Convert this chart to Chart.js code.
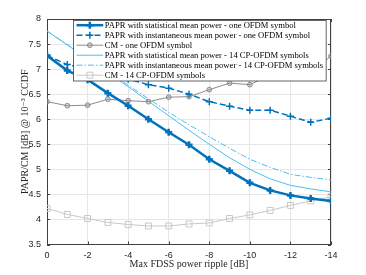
<!DOCTYPE html>
<html>
<head>
<meta charset="utf-8">
<script src="https://cdn.jsdelivr.net/npm/chart.js@4.4.1/dist/chart.umd.min.js"></script>
<style>
  html, body { margin: 0; padding: 0; background: #fff; }
</style>
</head>
<body>
<canvas id="c" width="366" height="275"></canvas>
<script>
// Max FDSS power ripple [dB], one point per dB
const ripple = [0, -1, -2, -3, -4, -5, -6, -7, -8, -9, -10, -11, -12, -13, -14];

const paprStatOne   = [7.27, 6.97, 6.79, 6.52, 6.27, 6.00, 5.74, 5.49, 5.20, 4.97, 4.73, 4.58, 4.48, 4.42, 4.37];
const paprInstOne   = [7.27, 7.09, 7.00, 6.91, 6.80, 6.69, 6.62, 6.50, 6.35, 6.26, 6.18, 6.18, 6.06, 5.94, 6.02];
const cmOne         = [6.35, 6.27, 6.28, 6.40, 6.37, 6.35, 6.44, 6.45, 6.59, 6.72, 6.69, 6.88, 7.00, 6.93, 7.26];
const paprStatCp14  = [7.76, 7.48, 7.21, 6.93, 6.65, 6.36, 6.07, 5.78, 5.50, 5.23, 5.00, 4.81, 4.68, 4.61, 4.55];
const paprInstCp14  = [7.76, 7.49, 7.22, 6.95, 6.68, 6.41, 6.14, 5.89, 5.65, 5.42, 5.20, 5.04, 4.90, 4.84, 4.79];
const cmCp14        = [4.22, 4.10, 4.02, 3.94, 3.90, 3.87, 3.87, 3.91, 3.93, 4.02, 4.09, 4.18, 4.28, 4.37, 4.45];

const seriesLabels = [
  "PAPR with statistical mean power - one OFDM symbol",
  "PAPR with instantaneous mean power - one OFDM symbol",
  "CM - one OFDM symbol",
  "PAPR with statistical mean power - 14 CP-OFDM symbols",
  "PAPR with instantaneous mean power - 14 CP-OFDM symbols",
  "CM - 14 CP-OFDM symbols",
];

const xTickValues = [0, -2, -4, -6, -8, -10, -12, -14];
const yTickValues = [3.5, 4, 4.5, 5, 5.5, 6, 6.5, 7, 7.5, 8];

const BLUE = "#0072BD", LIGHT = "#4DBEEE", GRAY = "#8C8C8C", PALE = "#C8C8C8";
const AXIS = "#404040";
const SERIF = '"Liberation Serif", "DejaVu Serif", serif';
const SANS = '"Liberation Sans", Arial, sans-serif';

const pts = ys => ripple.map((x, i) => ({ x, y: ys[i] }));

function line(label, ys, color, width, dash, marker, radius, fillMarker) {
  return {
    label, data: pts(ys), borderColor: color, borderWidth: width, borderDash: dash,
    pointStyle: marker || "circle", pointRadius: marker ? radius : 0,
    pointBorderColor: color, pointBackgroundColor: fillMarker || "rgba(0,0,0,0)",
    pointBorderWidth: marker === "cross" ? width : 1,
    fill: false, tension: 0,
  };
}

// MATLAB-style box: top/right edges plus inward tick marks
const frame = {
  id: "frame",
  beforeDatasetsDraw(chart) {
    const { ctx, chartArea: a, scales: { x, y } } = chart;
    ctx.save();
    ctx.strokeStyle = AXIS;
    ctx.lineWidth = 1;
    ctx.beginPath();
    ctx.moveTo(a.left, a.top + 0.5); ctx.lineTo(a.right, a.top + 0.5);
    ctx.moveTo(a.right - 0.5, a.top); ctx.lineTo(a.right - 0.5, a.bottom);
    x.ticks.forEach(t => {
      const px = Math.round(x.getPixelForValue(t.value)) + 0.5;
      ctx.moveTo(px, a.bottom); ctx.lineTo(px, a.bottom - 3);
      ctx.moveTo(px, a.top); ctx.lineTo(px, a.top + 3);
    });
    y.ticks.forEach(t => {
      const py = Math.round(y.getPixelForValue(t.value)) + 0.5;
      ctx.moveTo(a.left, py); ctx.lineTo(a.left + 3, py);
      ctx.moveTo(a.right, py); ctx.lineTo(a.right - 3, py);
    });
    ctx.stroke();
    ctx.restore();
  },
};

// boxed legend in the upper right of the plot, drawn over the lines
const boxLegend = {
  id: "boxLegend",
  afterDatasetsDraw(chart) {
    const { ctx, chartArea: a } = chart;
    const sets = chart.data.datasets;
    ctx.save();
    ctx.font = "8.6px " + SERIF;
    const textW = Math.max(...sets.map(d => ctx.measureText(d.label).width));
    const rowH = 10, sampleL = 3, sampleR = 29.7, textX = 31.3;
    const w = textX + textW + 3, h = sets.length * rowH + 0.5;
    const left = Math.round(a.right - 5 - w) + 0.5, top = 20.5;
    ctx.fillStyle = "#fff";
    ctx.fillRect(left, top, w, h);
    ctx.strokeStyle = AXIS; ctx.lineWidth = 0.8;
    ctx.strokeRect(left, top, w, h);
    sets.forEach((d, i) => {
      const cy = top + 4.7 + i * rowH;
      ctx.save();
      ctx.strokeStyle = d.borderColor; ctx.lineWidth = d.borderWidth;
      ctx.setLineDash(d.borderDash || []);
      ctx.beginPath();
      ctx.moveTo(left + sampleL, cy); ctx.lineTo(left + sampleR, cy);
      ctx.stroke();
      ctx.setLineDash([]);
      if (d.pointRadius > 0) {
        ctx.strokeStyle = d.pointBorderColor; ctx.fillStyle = d.pointBackgroundColor;
        ctx.lineWidth = d.pointBorderWidth;
        Chart.helpers.drawPoint(ctx, { pointStyle: d.pointStyle, radius: d.pointRadius, rotation: 0, borderWidth: d.pointBorderWidth },
          left + (sampleL + sampleR) / 2, cy);
      }
      ctx.restore();
      ctx.fillStyle = "#000"; ctx.textBaseline = "middle"; ctx.textAlign = "left";
      ctx.fillText(d.label, left + textX, cy + 0.5);
    });
    ctx.restore();
  },
};

new Chart(document.getElementById("c").getContext("2d"), {
  type: "line",
  data: {
    datasets: [
      line(seriesLabels[0], paprStatOne, BLUE, 2.5, [], "cross", 3.5),
      line(seriesLabels[1], paprInstOne, BLUE, 1.5, [6, 3], "cross", 3.5),
      line(seriesLabels[2], cmOne, GRAY, 1, [], "circle", 2.4, "rgba(140,140,140,0.35)"),
      line(seriesLabels[3], paprStatCp14, LIGHT, 1, [], null, 0),
      line(seriesLabels[4], paprInstCp14, LIGHT, 1, [6, 2, 1.5, 2], null, 0),
      line(seriesLabels[5], cmCp14, PALE, 1, [], "rect", 4.2),
    ],
  },
  options: {
    responsive: false, animation: false, devicePixelRatio: 1,
    layout: { padding: { left: 0, right: 35, top: 19, bottom: 0 } },
    scales: {
      x: {
        type: "linear", reverse: true, min: -14, max: 0,
        afterFit: s => { s.height = 30.5; },
        afterBuildTicks: s => { s.ticks = xTickValues.map(v => ({ value: v })); },
        grid: { color: "#e6e6e6", drawTicks: false },
        border: { color: AXIS, width: 1 },
        ticks: { color: "#262626", font: { family: SANS, size: 9 }, padding: 6, maxRotation: 0,
                 callback: v => String(v) },
        title: { display: true, text: "Max FDSS power ripple [dB]", color: "#262626",
                 font: { family: SERIF, size: 10 }, padding: { top: 0, bottom: 5 } },
      },
      y: {
        type: "linear", min: 3.5, max: 8,
        afterFit: s => { s.width = 47; },
        afterBuildTicks: s => { s.ticks = yTickValues.map(v => ({ value: v })); },
        grid: { color: "#e6e6e6", drawTicks: false },
        border: { color: AXIS, width: 1 },
        ticks: { color: "#262626", font: { family: SANS, size: 9 }, padding: 6,
                 callback: v => String(v) },
        title: { display: true, text: "PAPR/CM [dB] @ 10\u207B\u00B3 CCDF", color: "#262626",
                 font: { family: SERIF, size: 10 }, padding: { top: 19, bottom: 0 } },
      },
    },
    plugins: { legend: { display: false }, tooltip: { enabled: false } },
  },
  plugins: [frame, boxLegend],
});
</script>
</body>
</html>
